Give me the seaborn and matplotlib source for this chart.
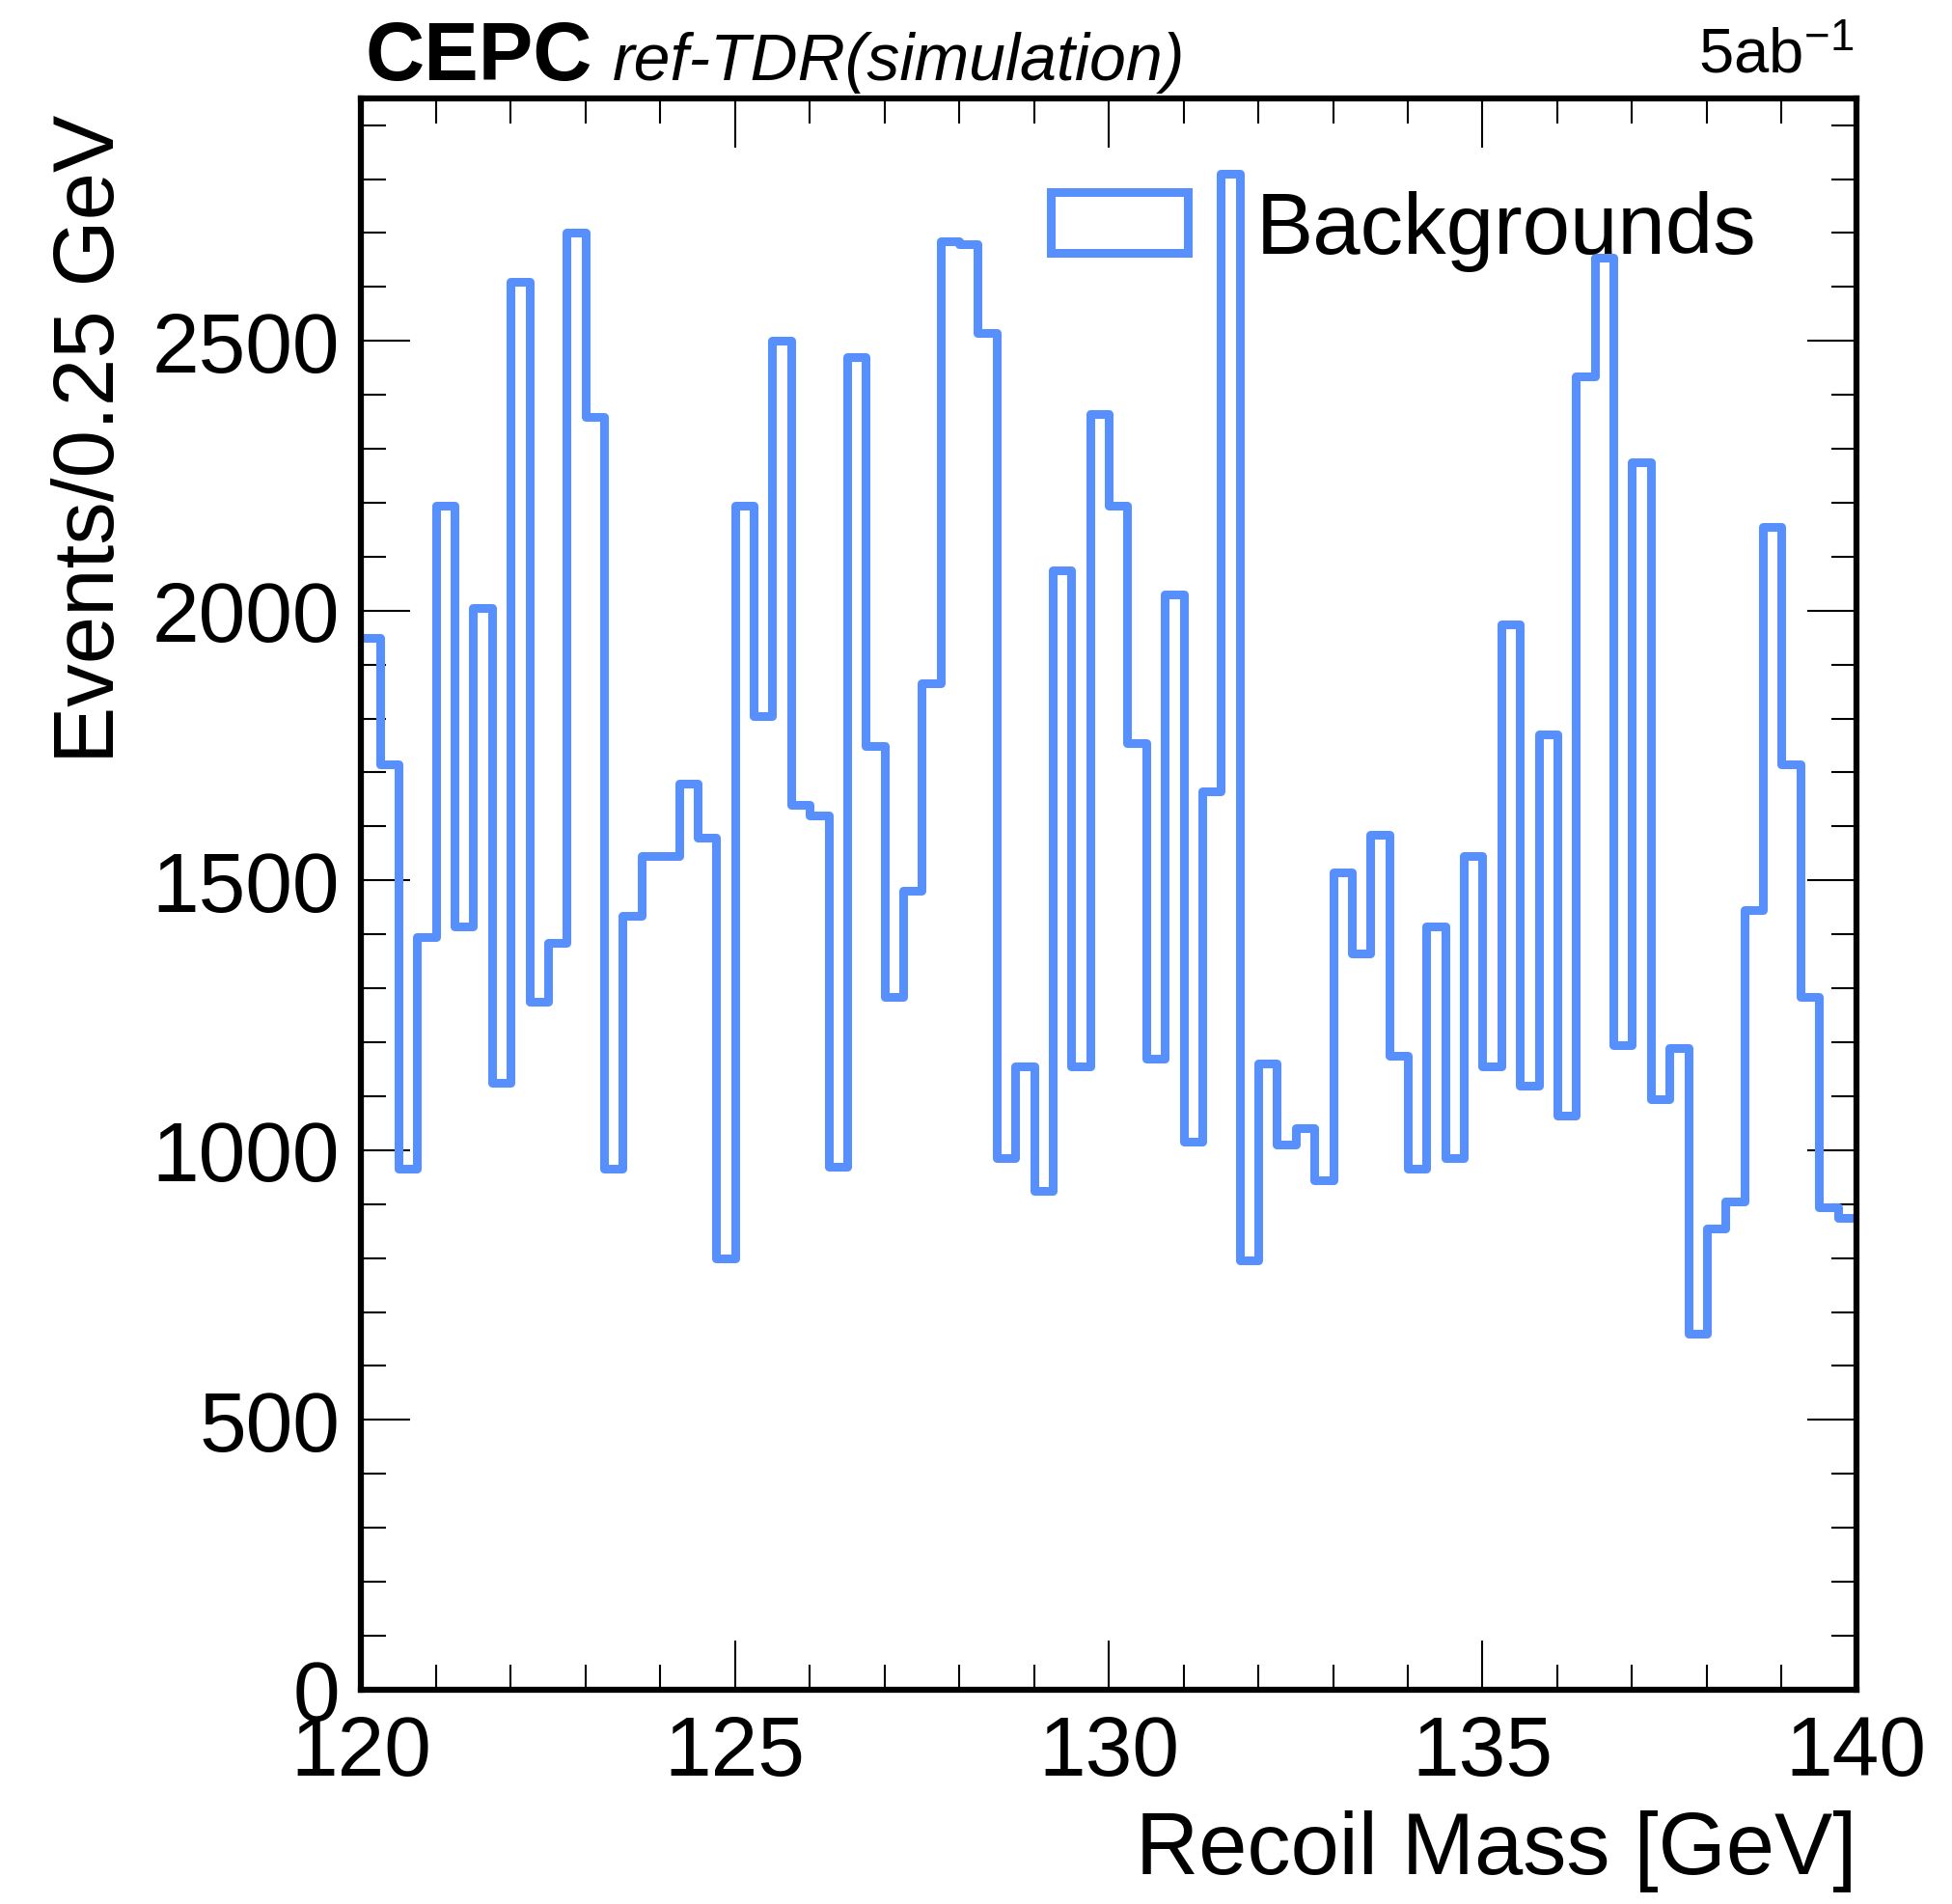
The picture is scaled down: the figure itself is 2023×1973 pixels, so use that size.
import numpy as np
import pandas as pd
import matplotlib
matplotlib.use('Agg')
import matplotlib.pyplot as plt
import seaborn as sns
from matplotlib.patches import Patch
from matplotlib.ticker import MultipleLocator

# recoil mass window, 0.25 GeV bins
mass_lo, mass_hi, bin_width = 120.0, 140.0, 0.25

# background events per bin (left to right)
bkg_counts = [
    1950, 1715, 965, 1395, 2195, 1415, 2005, 1125, 2610, 1275,
    1385, 2700, 2360, 965, 1435, 1545, 1545, 1680, 1580, 800,
    2195, 1805, 2500, 1640, 1620, 970, 2470, 1750, 1285, 1480,
    1865, 2685, 2680, 2515, 985, 1155, 925, 2075, 1155, 2365,
    2195, 1755, 1170, 2030, 1015, 1665, 2810, 795, 1160, 1010,
    1040, 945, 1515, 1365, 1585, 1175, 965, 1415, 985, 1545,
    1155, 1975, 1120, 1770, 1065, 2435, 2655, 1195, 2275, 1095,
    1190, 660, 855, 905, 1445, 2155, 1715, 1285, 895, 875,
]

x_ticks = [120, 125, 130, 135, 140]
y_ticks = [0, 500, 1000, 1500, 2000, 2500]

edges = np.linspace(mass_lo, mass_hi, len(bkg_counts) + 1)
df = pd.DataFrame({'mass': (edges[:-1] + edges[1:]) / 2, 'events': bkg_counts})

sns.set_style('ticks')
plt.rcParams['font.family'] = ['Liberation Sans', 'DejaVu Sans']
plt.rcParams['mathtext.fontset'] = 'custom'
plt.rcParams['mathtext.rm'] = 'Liberation Sans'
plt.rcParams['mathtext.it'] = 'Liberation Sans:italic'
plt.rcParams['text.color'] = 'black'
plt.rcParams['axes.labelcolor'] = 'black'
plt.rcParams['xtick.color'] = 'black'
plt.rcParams['ytick.color'] = 'black'

blue = '#5790fc'

fig = plt.figure(figsize=(20.23, 19.74), dpi=100)
ax = fig.add_axes([0.185, 0.1125, 0.766, 0.8355])

sns.histplot(data=df, x='mass', weights='events', bins=edges.tolist(), element='step',
             fill=False, color=blue, linewidth=6.5, ax=ax)

ax.set_xlim(mass_lo, mass_hi)
ax.set_ylim(0, 2950)
ax.set_xticks(x_ticks)
ax.set_yticks(y_ticks)
ax.xaxis.set_minor_locator(MultipleLocator(1))
ax.yaxis.set_minor_locator(MultipleLocator(100))
ax.tick_params(which='both', direction='in', top=True, right=True, width=1.5,
               color='black', labelcolor='black')
ax.tick_params(which='major', length=37, labelsize=63)
ax.tick_params(axis='y', which='major', pad=16)
ax.tick_params(axis='x', which='major', pad=18)
ax.tick_params(which='minor', length=19)
for s in ax.spines.values():
    s.set_linewidth(4.5)
    s.set_color('black')

ax.set_xlabel('Recoil Mass [GeV]', fontsize=65, loc='right', color='black')
ax.xaxis.set_label_coords(1.0, -0.075)
ax.set_ylabel('Events/0.25 GeV', fontsize=64, loc='top', color='black')
ax.yaxis.set_label_coords(-0.153, 0.99)

handle = Patch(facecolor='none', edgecolor=blue, linewidth=6.5)
leg = ax.legend(handles=[handle], labels=['Backgrounds'], fontsize=64, frameon=False,
                loc='center left', bbox_to_anchor=(0.461, 0.917), borderpad=0,
                borderaxespad=0, handlelength=1.6, handleheight=0.73, handletextpad=0.8)
for t in leg.get_texts():
    t.set_color('black')

ax.text(0.003, 1.012, 'CEPC', transform=ax.transAxes, fontsize=61,
        fontweight='bold', ha='left', va='baseline', color='black')
ax.text(0.168, 1.012, 'ref-TDR(simulation)', transform=ax.transAxes, fontsize=49,
        fontstyle='italic', ha='left', va='baseline', color='black')
ax.text(0.998, 1.016, r'5ab$^{-1}$', transform=ax.transAxes, fontsize=47,
        ha='right', va='baseline', color='black')

fig.savefig('out.png', dpi=100)
